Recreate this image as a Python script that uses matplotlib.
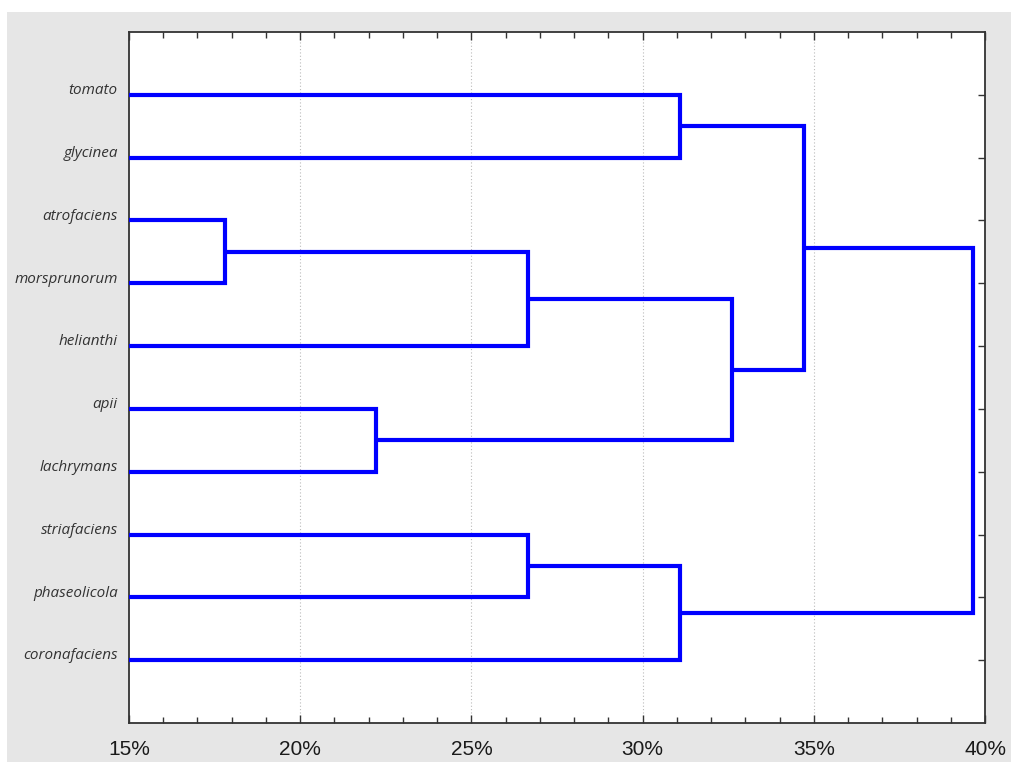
import matplotlib
matplotlib.use("Agg")
import matplotlib.pyplot as plt
from matplotlib.patches import Rectangle
from matplotlib.ticker import MultipleLocator, FuncFormatter
from matplotlib.transforms import ScaledTranslation

# Leaf order top to bottom
leaves = ["tomato", "glycinea", "atrofaciens", "morsprunorum", "helianthi",
          "apii", "lachrymans", "striafaciens", "phaseolicola", "coronafaciens"]
# Merges: (left node, right node, linkage distance %)
merges = [
    ("atrofaciens", "morsprunorum", 17.8),
    ("apii", "lachrymans", 22.2),
    ("C1", "helianthi", 26.65),
    ("striafaciens", "phaseolicola", 26.65),
    ("tomato", "glycinea", 31.1),
    ("C4", "coronafaciens", 31.1),
    ("C3", "C2", 32.6),
    ("C5", "C7", 34.7),
    ("C8", "C6", 39.65),
]
xticks = [15, 20, 25, 30, 35, 40]

W, H = 1011, 762
fig = plt.figure(figsize=(W / 100, H / 100), dpi=100)
fig.patch.set_facecolor("white")
bg = Rectangle((7 / W, 0), 1 - 7 / W, 1 - 12 / H,
               transform=fig.transFigure, facecolor="#e6e6e6",
               edgecolor="none", zorder=-10)
fig.patches.append(bg)
ax = fig.add_axes([129 / W, 1 - 723 / H, (985 - 129) / W, (723 - 32) / H])
ax.set_zorder(5)
ax.set_facecolor("white")

pos = {name: (i + 1, 15.0) for i, name in enumerate(leaves)}
blue = "#0000ff"
lw = 3.0
for k, (a, b, h) in enumerate(merges, start=1):
    ya, xa = pos[a]
    yb, xb = pos[b]
    ax.plot([xa, h, h, xb], [ya, ya, yb, yb], color=blue, lw=lw,
            solid_joinstyle="miter", solid_capstyle="butt", zorder=3,
            clip_on=False)
    pos["C%d" % k] = ((ya + yb) / 2, h)

ax.set_xlim(15, 40)
ax.set_ylim(len(leaves) + 1, 0)
ax.xaxis.set_minor_locator(MultipleLocator(1))
ax.set_xticks(xticks)
ax.xaxis.set_major_formatter(FuncFormatter(lambda v, p: "%d%%" % round(v)))
ax.set_yticks(range(1, len(leaves) + 1))
ax.set_yticklabels(leaves, fontfamily="Open Sans", fontstyle="italic",
                   fontsize=11, color="#333333")
ax.tick_params(axis="y", which="both", direction="in", length=5, width=1,
               color="#333333", left=True, right=True, pad=8)
ax.tick_params(axis="x", which="major", direction="in", length=6, width=1,
               color="#333333", top=True, bottom=True, pad=12,
               labelsize=15, labelcolor="#1a1a1a")
ax.tick_params(axis="x", which="minor", direction="in", length=4, width=1,
               color="#333333", top=True, bottom=True)
for lab in ax.get_xticklabels():
    lab.set_fontfamily("Liberation Sans")
off = ScaledTranslation(0, 4.5 / 72, fig.dpi_scale_trans)
for lab in ax.get_yticklabels():
    lab.set_transform(lab.get_transform() + off)
for sp in ax.spines.values():
    sp.set_color("#333333")
    sp.set_linewidth(1.3)
for x in [20, 25, 30, 35]:
    ax.axvline(x, color="#bbbbbb", lw=0.8, ls=(0, (1, 2)), zorder=1)

fig.savefig("out.png", dpi=100, facecolor=fig.get_facecolor())
